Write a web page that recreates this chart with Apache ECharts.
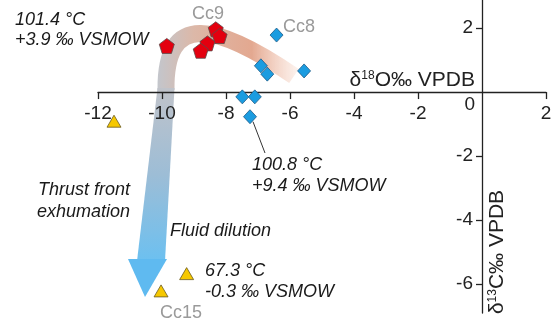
<!DOCTYPE html>
<html><head><meta charset="utf-8">
<script src="https://cdn.jsdelivr.net/npm/echarts@6/dist/echarts.min.js"></script>
<style>html,body{margin:0;padding:0;background:#fff}#c{width:559px;height:324px}</style>
</head><body><div id="c"></div>
<script>
// Cc9 (red pentagons)
const cc9X = [-9.85, -8.32, -8.20, -8.58, -8.79];
const cc9Y = [1.44, 1.96, 1.75, 1.52, 1.29];
// Cc8 (blue diamonds)
const cc8X = [-6.42, -6.91, -6.71, -5.56, -7.49, -7.10, -7.25];
const cc8Y = [1.78, 0.82, 0.56, 0.66, -0.15, -0.15, -0.77];
// Cc15 (yellow triangles)
const cc15X = [-11.5, -9.23, -10.03];
const cc15Y = [-0.91, -5.67, -6.21];
// tick labels
const xTickLabels = [-12, -10, -8, -6, -4, -2, 2];
const yTickLabels = [-6, -4, -2, 2];

const FONT = '"Liberation Sans", Arial, sans-serif';
const pair = (xs, ys) => xs.map((x, i) => [x, ys[i]]);
const pentagon = 'path://M0,-10 L9.51,-3.09 L5.88,8.09 L-5.88,8.09 L-9.51,-3.09 Z';

const GL = 98, GR = 13, GT = 0, GB = 11, W = 559, H = 324;
const XMIN = -12, XMAX = 2, YMIN = -6.9, YMAX = 2.875;
// pixel location of the zero lines (axes cross at the origin)
const zeroYpx = GT + (YMAX - 0) / (YMAX - YMIN) * (H - GT - GB);
const zeroXpx = GL + (0 - XMIN) / (XMAX - XMIN) * (W - GL - GR);

const chart = echarts.init(document.getElementById('c'), null, {renderer: 'canvas'});
const txt = (x, y, text, extra) => ({
  type: 'text', x: x, y: y, z: 8,
  style: Object.assign({text: text, fontFamily: FONT, fontSize: 18, fill: '#1a1a1a', fontStyle: 'italic', verticalAlign: 'middle'}, extra || {})
});

chart.setOption({
  animation: false,
  grid: {left: GL, right: GR, top: GT, bottom: GB, containLabel: false},
  xAxis: {
    type: 'value', min: XMIN, max: XMAX, interval: 2, position: 'bottom', z: 5,
    offset: -((H - GB) - zeroYpx),
    axisLine: {onZero: false, lineStyle: {color: '#222', width: 1.3}},
    axisTick: {length: 7, lineStyle: {color: '#222', width: 1.3}, customValues: xTickLabels},
    axisLabel: {customValues: xTickLabels, color: '#222', fontSize: 19, fontFamily: FONT, margin: 12},
    splitLine: {show: false}
  },
  yAxis: {
    type: 'value', min: YMIN, max: YMAX, position: 'left', z: 5,
    offset: -(zeroXpx - GL),
    axisLine: {onZero: false, lineStyle: {color: '#222', width: 1.3}},
    axisTick: {length: 6, lineStyle: {color: '#222', width: 1.3}, customValues: yTickLabels},
    axisLabel: {customValues: yTickLabels, color: '#222', fontSize: 19, fontFamily: FONT, margin: 9},
    splitLine: {show: false}
  },
  series: [
    {type: 'scatter', name: 'Cc9', data: pair(cc9X, cc9Y), symbol: pentagon, symbolSize: 15, z: 6, clip: false,
     itemStyle: {color: '#e3000f', borderColor: '#5a4a4a', borderWidth: 0.8, opacity: 1}},
    {type: 'scatter', name: 'Cc8', data: pair(cc8X, cc8Y), symbol: 'diamond', symbolSize: [13, 14], z: 6, clip: false,
     itemStyle: {color: '#1b9ce0', borderColor: '#1d5a86', borderWidth: 0.8, opacity: 1}},
    {type: 'scatter', name: 'Cc15', data: pair(cc15X, cc15Y), symbol: 'triangle', symbolSize: [14, 12], z: 6, clip: false,
     itemStyle: {color: '#f6c800', borderColor: '#6a5a20', borderWidth: 0.8, opacity: 1}}
  ]
});

const lp = chart.convertToPixel({gridIndex: 0}, [cc8X[6], cc8Y[6]]);
const zero = chart.convertToPixel({gridIndex: 0}, [0, 0]);

chart.setOption({
  graphic: [
    // arrow band
    {type: 'bezierCurve', z: 1, silent: true,
     shape: {x1: 294, y1: 76, cpx1: 215, cpy1: 22, cpx2: 165, cpy2: 12, x2: 166, y2: 90},
     style: {fill: null, lineWidth: 17, stroke: {type: 'linear', x: 0, y: 0, x2: 1, y2: 0, colorStops: [
       {offset: 0, color: '#c3c6cc'}, {offset: 0.25, color: '#dcb8a8'}, {offset: 0.65, color: '#e3a890'},
       {offset: 1, color: 'rgba(244,200,180,0.15)'}]}}},
    {type: 'polygon', z: 1, silent: true,
     shape: {points: [[157.5, 88], [174.5, 88], [165, 261], [137, 261]]},
     style: {fill: {type: 'linear', x: 0, y: 0, x2: 0, y2: 1, colorStops: [
       {offset: 0, color: '#c0c3ca'}, {offset: 0.5, color: '#9dbdd6'}, {offset: 1, color: '#6cc0f0'}]}}},
    {type: 'polygon', z: 1, silent: true,
     shape: {points: [[128, 259], [167, 259], [145, 297]]},
     style: {fill: '#5fbaf0'}},
    // leader line
    {type: 'line', z: 7, silent: true, shape: {x1: lp[0] + 3, y1: lp[1] + 5, x2: 265, y2: 153},
     style: {stroke: '#333', lineWidth: 1}},
    // axis names
    {type: 'text', z: 8, x: 475, y: 80, style: {
      text: 'δ{s|18}O‰ VPDB', align: 'right', verticalAlign: 'middle', fontFamily: FONT, fontSize: 21, fill: '#222',
      rich: {s: {fontSize: 12, fontFamily: FONT, fill: '#222', padding: [0, 0, 9, 0]}}}},
    {type: 'text', z: 8, x: 497, y: 252, rotation: Math.PI / 2, style: {
      text: 'δ{s|13}C‰ VPDB', align: 'center', verticalAlign: 'middle', fontFamily: FONT, fontSize: 21, fill: '#222',
      rich: {s: {fontSize: 12, fontFamily: FONT, fill: '#222', padding: [0, 0, 9, 0]}}}},
    {type: 'text', z: 8, x: zero[0] - 7, y: zero[1] + 13, style: {
      text: '0', align: 'right', verticalAlign: 'middle', fontFamily: FONT, fontSize: 19, fill: '#222'}},
    // sample names
    txt(208, 14, 'Cc9', {fontStyle: 'normal', fill: '#9a9a9a', align: 'center'}),
    txt(299, 27, 'Cc8', {fontStyle: 'normal', fill: '#9a9a9a', align: 'center'}),
    txt(181, 313, 'Cc15', {fontStyle: 'normal', fill: '#9a9a9a', align: 'center'}),
    // annotations
    txt(15, 20, '101.4 °C'),
    txt(15, 40, '+3.9 ‰ VSMOW'),
    txt(252, 165, '100.8 °C'),
    txt(252, 186, '+9.4 ‰ VSMOW'),
    txt(130, 190, 'Thrust front', {align: 'right'}),
    txt(130, 212, 'exhumation', {align: 'right'}),
    txt(170, 231, 'Fluid dilution'),
    txt(205, 271, '67.3 °C'),
    txt(205, 292, '-0.3 ‰ VSMOW')
  ]
});
</script></body></html>
